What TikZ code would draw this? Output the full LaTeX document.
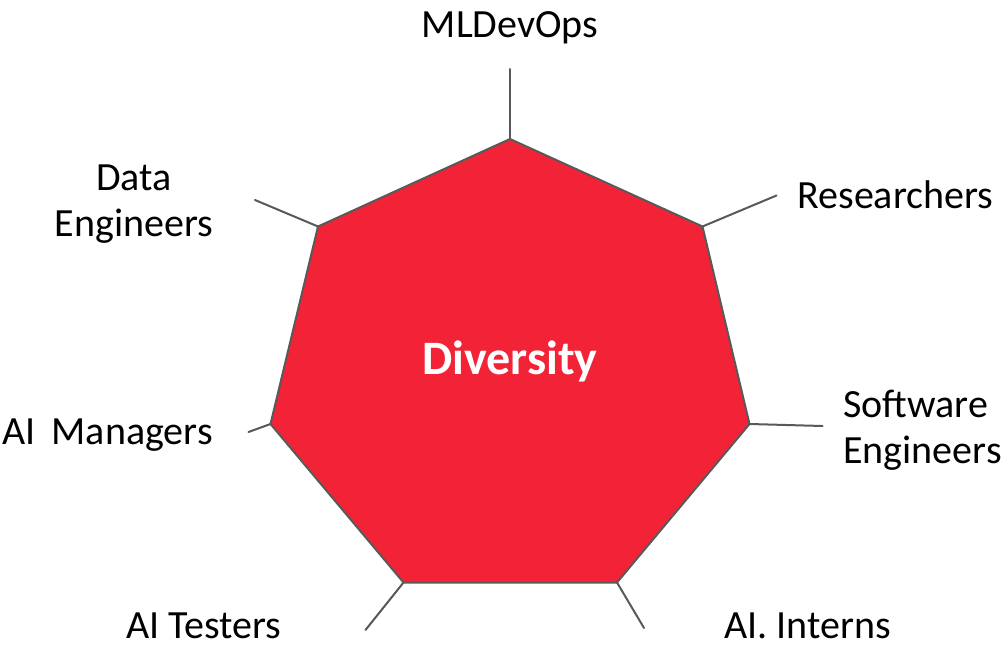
\documentclass[tikz,border=0pt]{standalone}
\usepackage{fontspec}
\setmainfont{Carlito}
\definecolor{hexred}{HTML}{F32337}
\definecolor{edgegray}{HTML}{595959}
\begin{document}
\begin{tikzpicture}[x=0.5pt,y=-0.5pt,
  edge/.style={draw=edgegray,line width=1pt},
  lbl/.style={inner sep=0pt,font=\fontsize{20}{23}\selectfont,text=black},
  core/.style={inner sep=0pt,font=\fontsize{24}{28}\selectfont\bfseries,text=white}]
\useasboundingbox (0,0) rectangle (1004,646);
% vertices
\coordinate (v1) at (510,139);
\coordinate (v2) at (702.5,226.5);
\coordinate (v3) at (749.5,424);
\coordinate (v4) at (617,582.5);
\coordinate (v5) at (403.5,582.5);
\coordinate (v6) at (270.5,424);
\coordinate (v7) at (318,226.5);
% spoke ends
\coordinate (e1) at (510,69);
\coordinate (e2) at (776.5,195.5);
\coordinate (e3) at (822.5,426);
\coordinate (e4) at (644,628);
\coordinate (e5) at (365.5,630);
\coordinate (e6) at (248.5,432);
\coordinate (e7) at (255,200);
\fill[hexred] (v1) -- (v2) -- (v3) -- (v4) -- (v5) -- (v6) -- (v7) -- cycle;
\foreach \i in {1,...,7} \draw[edge,line cap=round] (v\i) -- (e\i);
\draw[edge,line join=round] (v1) -- (v2) -- (v3) -- (v4) -- (v5) -- (v6) -- (v7) -- cycle;
\node[core,anchor=base] (div) at (510,374.5) {Diversity};
\node[lbl,anchor=base] (mld) at (510,37.5) {MLDevOps};
\node[lbl,anchor=base west] (res) at (797,209) {Researchers};
\node[lbl,align=left,anchor=base west] (sw) at (843,463) {Software\\Engineers};
\node[lbl,anchor=base] (int) at (807.5,638.5) {AI. Interns};
\node[lbl,anchor=base] (tst) at (204,638) {AI Testers};
\node[lbl,anchor=base east] (mgr) at (213,444) {AI\hspace{0.4em}Managers};
\node[lbl,align=center,anchor=base] (de) at (134,237) {Data\\Engineers};
\end{tikzpicture}
\end{document}
